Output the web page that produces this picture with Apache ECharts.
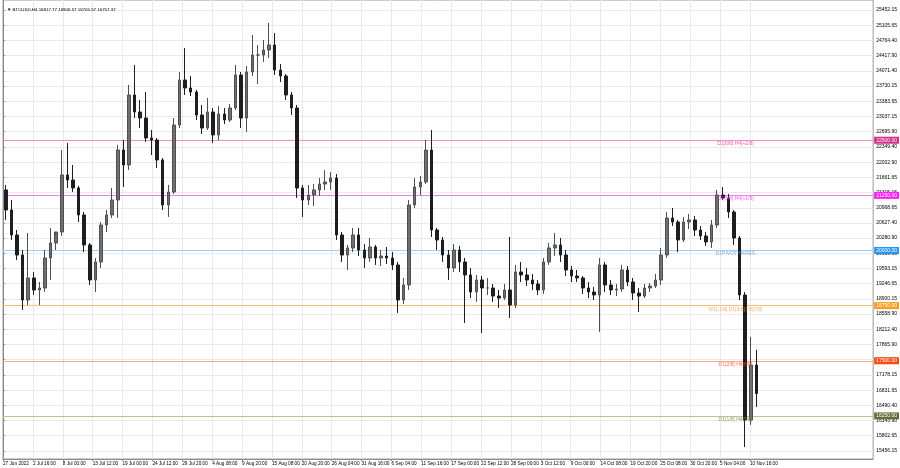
<!DOCTYPE html>
<html><head><meta charset="utf-8">
<script src="https://cdn.jsdelivr.net/npm/echarts@6/dist/echarts.min.js"></script>
<style>html,body{margin:0;padding:0;background:#fff}#c{width:900px;height:468px}</style>
</head><body><div id="c"></div>
<script>
// Daily aggregation of BTCUSD H4 price path
const opens = [21372,20919,20352,19898,18878,19377,19105,19150,19830,20170,
20420,21712,21598,21417,20805,20125,19331,19740,20578,20805,
21145,22278,21938,23525,23140,23004,22551,22505,22052,21032,
21326,22845,23865,23684,23593,23072,22777,23140,22619,23095,
22959,23231,23979,23004,24047,24432,24432,24546,24659,24092,
23956,23525,23231,21417,21145,21258,21372,21508,21553,21644,
20352,19898,20057,20352,20011,19830,20079,19830,19875,19830,
19672,18878,19218,21032,21440,21553,22278,20465,20238,19898,
19604,20011,19740,19445,19059,19331,19150,19150,18968,18923,
19105,18765,19513,19445,19331,19241,19105,19740,20057,20125,
19898,19558,19422,19377,19150,19059,18991,19672,19218,19105,
19127,19558,19286,19036,18968,19150,19195,19331,19898,20737,
20646,20238,20646,20692,20465,20329,20193,20578,21258,21190,
20873,20283,18991,16158,17404];
const highs = [21485,21145,20465,20011,20397,19513,19286,20011,20511,20352,
22278,22437,21938,21463,20873,20170,19830,20646,20919,21417,
22392,22505,23752,24205,23412,23593,22732,22551,22097,21485,
23004,24047,24591,23956,23639,23299,23457,23231,23276,23231,
23321,24205,24047,24183,24886,24659,24772,25158,24931,24228,
24001,23593,23299,21485,21485,21508,21644,21825,21780,21734,
20420,20125,20511,20511,20148,20283,20125,20011,20079,19966,
19740,19377,21145,21644,21689,22505,22732,20511,20306,20011,
20148,20102,19830,19604,19445,19422,19377,19241,19105,19241,
20306,19672,19740,19604,19468,19331,19830,20170,20397,20283,
20011,19649,19558,19422,19286,19173,19830,19740,19331,19241,
19672,19649,19377,19150,19241,19263,19468,20057,20873,20964,
20692,20760,20828,20783,20556,20420,20692,21372,21440,21281,
20919,20329,19059,18040,17745];
const lows = [20692,20238,19785,18652,18765,18991,18765,19059,19331,20011,
20329,21417,21326,20646,19966,19218,19059,19604,20420,20737,
20737,21440,21825,23004,22777,22460,22165,21870,20919,20760,
21281,22777,23525,23503,22959,22641,22732,22437,22505,22868,
22913,23185,22777,22687,23956,23775,24273,24364,23979,23820,
23412,23072,21190,20760,21032,21009,21236,21372,21372,20238,
19740,19558,19966,19875,19604,19740,19672,19649,19694,19558,
18584,18787,19105,20964,21258,21508,20306,20011,19740,19331,
19513,19513,18357,18923,18833,18130,18991,18833,18697,18878,
18470,18697,19286,19195,19105,18991,19014,19672,19875,19740,
19422,19286,19286,19014,18923,18878,18153,19059,18991,18968,
19059,19195,18878,18607,18923,19059,19150,19218,19830,20556,
19966,20193,20488,20329,20238,20102,20057,20511,21145,20737,
20125,18878,15545,16045,16452];
const closes = [20919,20352,19898,18878,19377,19105,19150,19830,20170,20420,
21712,21598,21417,20805,20125,19331,19740,20578,20805,21145,
22278,21938,23525,23140,23004,22551,22505,22052,21032,21326,
22845,23865,23684,23593,23072,22777,23140,22619,23095,22959,
23231,23979,23004,24047,24432,24432,24546,24659,24092,23956,
23525,23231,21417,21145,21258,21372,21508,21553,21644,20352,
19898,20057,20352,20011,19830,20079,19830,19875,19830,19672,
18878,19218,21032,21440,21553,22278,20465,20238,19898,19604,
20011,19740,19445,19059,19331,19150,19150,18968,18923,19105,
18765,19513,19445,19331,19241,19105,19740,20057,20125,19898,
19558,19422,19377,19150,19059,18991,19672,19218,19105,19127,
19558,19286,19036,18968,19150,19195,19331,19898,20737,20646,
20238,20646,20692,20465,20329,20193,20578,21258,21190,20873,
20283,18991,16158,17404,16757.37];

const timeTickLabels = ['27 Jun 2022','2 Jul 16:00','8 Jul 00:00','13 Jul 12:00','19 Jul 00:00','24 Jul 12:00',
'29 Jul 20:00','4 Aug 08:00','9 Aug 20:00','15 Aug 08:00','20 Aug 20:00','26 Aug 04:00','31 Aug 16:00',
'6 Sep 04:00','11 Sep 16:00','17 Sep 00:00','22 Sep 12:00','28 Sep 00:00','3 Oct 12:00','9 Oct 00:00',
'14 Oct 08:00','19 Oct 20:00','25 Oct 08:00','30 Oct 20:00','5 Nov 04:00','10 Nov 16:00'];
const priceTicks = [15456.15,15802.65,16143.90,16490.40,16831.65,17178.15,17524.65,17865.90,18212.40,
18558.90,18900.15,19246.65,19593.15,19939.65,20280.90,20627.40,20968.65,21315.15,21661.65,22002.90,
22349.40,22695.90,23037.15,23383.65,23730.15,24071.40,24417.90,24764.40,25105.65,25452.15];
const levels = [22500, 21250, 20000, 18750, 17500, 16250];
const levelNames = ['D1[6/8] H4[+2/8]','D1[5/8] H4[+1/8]','D1PIVOT H4RES','W1[-1/8] D1[3/8] H4[7/8]','D1[2/8] H4[6/8]','D1[1/8] H4[5/8]'];
const lastPrice = 16757.37;
const headerText = 'BTCUSD,H4 16817.77 16906.57 16705.57 16757.37';

// styles (kept apart from data)
const lineColors = ['#f48cc2','#f07ef0','#9fcdf8','#ffbd7d','#ffa888','#bcc496'];
const textColors = ['#e2409a','#f03cf0','#4ea3ef','#f5a040','#f0562a','#7d8a52'];
const boxColors  = ['#cf2f86','#ff1cff','#2b93f0','#ff9a20','#ff4a14','#5f7036'];
const BARS_PER_DAY = 6;
const TICK_EVERY = 32;
const LABEL_BAR = 784.5;

const candleData = opens.map((o, i) => [i * BARS_PER_DAY + 3, o, closes[i], lows[i], highs[i]]);

const chart = echarts.init(document.getElementById('c'), null, {renderer: 'canvas'});
const FONT = 'Liberation Sans';
chart.setOption({
  animation: false,
  backgroundColor: '#ffffff',
  title: {
    text: '\u25BC ' + headerText, left: 2, top: 3,
    textStyle: {fontSize: 4.4, fontWeight: 'normal', color: '#000', fontFamily: FONT}
  },
  grid: {left: 0, right: 26, top: 0, bottom: 9, show: true, borderColor: '#9a9a9a', borderWidth: 1},
  xAxis: {
    type: 'value', min: 0, max: 932,
    axisLine: {show: true, lineStyle: {color: '#8c8c8c'}},
    axisTick: {show: true, length: 2, customValues: timeTickLabels.map((_, i) => i * TICK_EVERY), lineStyle: {color: '#8c8c8c'}},
    axisLabel: {
      customValues: timeTickLabels.map((_, i) => i * TICK_EVERY),
      formatter: v => timeTickLabels[Math.round(v / TICK_EVERY)] || '',
      fontSize: 4.7, color: '#000', fontFamily: FONT, align: 'left', margin: 2
    },
    splitLine: {show: true, lineStyle: {color: '#e9e9e9', width: 1}}
  },
  yAxis: {
    type: 'value', position: 'right', min: 15273, max: 25679, scale: true,
    axisLine: {show: true, lineStyle: {color: '#8c8c8c'}},
    axisTick: {show: true, length: 2, customValues: priceTicks, lineStyle: {color: '#8c8c8c'}},
    axisLabel: {
      customValues: priceTicks, formatter: v => v.toFixed(2),
      fontSize: 5, color: '#000', fontFamily: FONT, margin: 3
    },
    splitLine: {show: true, lineStyle: {color: '#e9e9e9', width: 1}}
  },
  series: [
    {
      type: 'candlestick',
      dimensions: ['bar', 'open', 'close', 'lowest', 'highest'],
      encode: {x: 0, y: [1, 2, 3, 4]},
      data: candleData,
      barWidth: 3,
      itemStyle: {color: '#6f6f6f', color0: '#1e1e1e', borderColor: '#4f4f4f', borderColor0: '#1e1e1e', borderWidth: 1},
      z: 3,
      markLine: {
        silent: true, symbol: 'none', animation: false, z: 2,
        data: levels.map((l, i) => ({
          yAxis: l,
          lineStyle: {color: lineColors[i], width: 1, type: 'solid', opacity: 1},
          label: {show: true, position: 'end', distance: 1, formatter: () => l.toFixed(2),
            backgroundColor: boxColors[i], color: '#fff', fontSize: 5, fontFamily: FONT, padding: [1, 2, 1, 2]}
        })).concat([{
          yAxis: lastPrice,
          lineStyle: {color: '#000', width: 0, opacity: 0},
          label: {show: true, position: 'end', distance: 1, formatter: () => lastPrice.toFixed(2),
            backgroundColor: '#000', color: '#fff', fontSize: 5, fontFamily: FONT, padding: [1, 2, 1, 2]}
        }])
      }
    },
    {
      type: 'scatter', symbolSize: 0, silent: true, z: 4,
      data: levels.map((l, i) => ({value: [LABEL_BAR, l], label: {color: textColors[i]}})),
      label: {show: true, position: 'bottom', distance: 1, fontSize: 5, fontFamily: FONT,
        formatter: p => levelNames[p.dataIndex]}
    }
  ]
});
</script></body></html>
